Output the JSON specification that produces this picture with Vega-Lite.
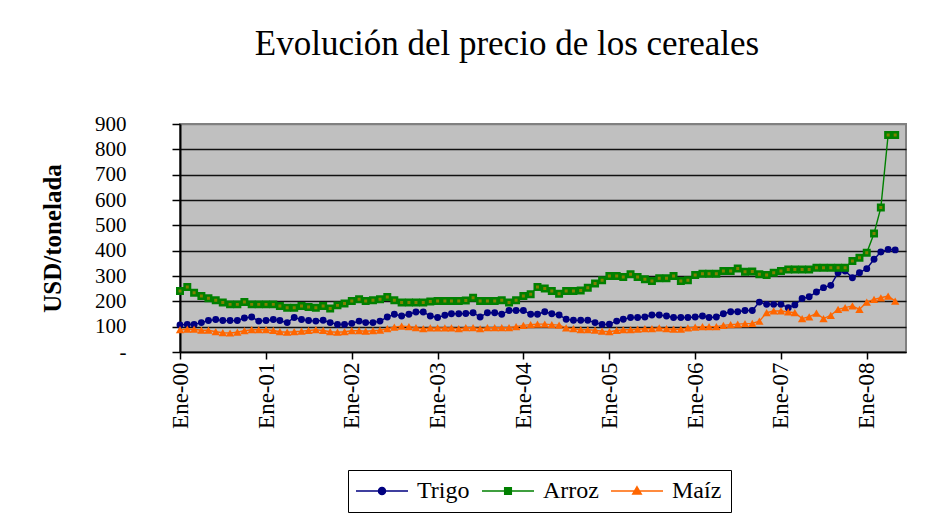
{
  "$schema": "https://vega.github.io/schema/vega-lite/v6.json",
  "width": 726,
  "height": 228,
  "autosize": {"type": "none"},
  "padding": {"left": 180, "top": 124, "right": 28, "bottom": 166},
  "background": "white",
  "title": {
    "text": "Evolución del precio de los cereales",
    "font": "Liberation Serif",
    "fontSize": 35,
    "fontWeight": "normal",
    "color": "black",
    "frame": "group",
    "anchor": "middle",
    "baseline": "alphabetic",
    "dx": -36,
    "offset": 23
  },
  "data": {
    "values": [
      {"fecha": "2000-01-01", "Trigo": 107, "Arroz": 241, "Maíz": 88},
      {"fecha": "2000-02-01", "Trigo": 109, "Arroz": 257, "Maíz": 90},
      {"fecha": "2000-03-01", "Trigo": 109, "Arroz": 234, "Maíz": 90},
      {"fecha": "2000-04-01", "Trigo": 116, "Arroz": 221, "Maíz": 86},
      {"fecha": "2000-05-01", "Trigo": 124, "Arroz": 212, "Maíz": 86},
      {"fecha": "2000-06-01", "Trigo": 128, "Arroz": 204, "Maíz": 80},
      {"fecha": "2000-07-01", "Trigo": 124, "Arroz": 195, "Maíz": 76},
      {"fecha": "2000-08-01", "Trigo": 124, "Arroz": 188, "Maíz": 75},
      {"fecha": "2000-09-01", "Trigo": 124, "Arroz": 188, "Maíz": 78},
      {"fecha": "2000-10-01", "Trigo": 134, "Arroz": 197, "Maíz": 84},
      {"fecha": "2000-11-01", "Trigo": 138, "Arroz": 188, "Maíz": 88},
      {"fecha": "2000-12-01", "Trigo": 122, "Arroz": 188, "Maíz": 88},
      {"fecha": "2001-01-01", "Trigo": 124, "Arroz": 188, "Maíz": 88},
      {"fecha": "2001-02-01", "Trigo": 128, "Arroz": 188, "Maíz": 85},
      {"fecha": "2001-03-01", "Trigo": 124, "Arroz": 182, "Maíz": 80},
      {"fecha": "2001-04-01", "Trigo": 116, "Arroz": 175, "Maíz": 78},
      {"fecha": "2001-05-01", "Trigo": 136, "Arroz": 175, "Maíz": 80},
      {"fecha": "2001-06-01", "Trigo": 128, "Arroz": 182, "Maíz": 82},
      {"fecha": "2001-07-01", "Trigo": 124, "Arroz": 178, "Maíz": 85},
      {"fecha": "2001-08-01", "Trigo": 122, "Arroz": 175, "Maíz": 88},
      {"fecha": "2001-09-01", "Trigo": 125, "Arroz": 182, "Maíz": 85},
      {"fecha": "2001-10-01", "Trigo": 116, "Arroz": 172, "Maíz": 80},
      {"fecha": "2001-11-01", "Trigo": 109, "Arroz": 184, "Maíz": 78},
      {"fecha": "2001-12-01", "Trigo": 109, "Arroz": 191, "Maíz": 80},
      {"fecha": "2002-01-01", "Trigo": 113, "Arroz": 201, "Maíz": 84},
      {"fecha": "2002-02-01", "Trigo": 122, "Arroz": 208, "Maíz": 84},
      {"fecha": "2002-03-01", "Trigo": 116, "Arroz": 201, "Maíz": 82},
      {"fecha": "2002-04-01", "Trigo": 116, "Arroz": 204, "Maíz": 84},
      {"fecha": "2002-05-01", "Trigo": 122, "Arroz": 208, "Maíz": 86},
      {"fecha": "2002-06-01", "Trigo": 138, "Arroz": 217, "Maíz": 92},
      {"fecha": "2002-07-01", "Trigo": 149, "Arroz": 204, "Maíz": 98},
      {"fecha": "2002-08-01", "Trigo": 142, "Arroz": 195, "Maíz": 102},
      {"fecha": "2002-09-01", "Trigo": 149, "Arroz": 195, "Maíz": 100},
      {"fecha": "2002-10-01", "Trigo": 158, "Arroz": 195, "Maíz": 96},
      {"fecha": "2002-11-01", "Trigo": 158, "Arroz": 195, "Maíz": 92},
      {"fecha": "2002-12-01", "Trigo": 142, "Arroz": 199, "Maíz": 95},
      {"fecha": "2003-01-01", "Trigo": 136, "Arroz": 201, "Maíz": 95},
      {"fecha": "2003-02-01", "Trigo": 145, "Arroz": 201, "Maíz": 95},
      {"fecha": "2003-03-01", "Trigo": 151, "Arroz": 201, "Maíz": 95},
      {"fecha": "2003-04-01", "Trigo": 151, "Arroz": 201, "Maíz": 92},
      {"fecha": "2003-05-01", "Trigo": 152, "Arroz": 203, "Maíz": 96},
      {"fecha": "2003-06-01", "Trigo": 155, "Arroz": 214, "Maíz": 96},
      {"fecha": "2003-07-01", "Trigo": 138, "Arroz": 201, "Maíz": 92},
      {"fecha": "2003-08-01", "Trigo": 155, "Arroz": 201, "Maíz": 96},
      {"fecha": "2003-09-01", "Trigo": 155, "Arroz": 201, "Maíz": 96},
      {"fecha": "2003-10-01", "Trigo": 149, "Arroz": 204, "Maíz": 96},
      {"fecha": "2003-11-01", "Trigo": 164, "Arroz": 195, "Maíz": 96},
      {"fecha": "2003-12-01", "Trigo": 164, "Arroz": 204, "Maíz": 100},
      {"fecha": "2004-01-01", "Trigo": 164, "Arroz": 221, "Maíz": 105},
      {"fecha": "2004-02-01", "Trigo": 149, "Arroz": 228, "Maíz": 108},
      {"fecha": "2004-03-01", "Trigo": 149, "Arroz": 257, "Maíz": 110},
      {"fecha": "2004-04-01", "Trigo": 159, "Arroz": 251, "Maíz": 110},
      {"fecha": "2004-05-01", "Trigo": 151, "Arroz": 241, "Maíz": 108},
      {"fecha": "2004-06-01", "Trigo": 146, "Arroz": 230, "Maíz": 106},
      {"fecha": "2004-07-01", "Trigo": 129, "Arroz": 241, "Maíz": 95},
      {"fecha": "2004-08-01", "Trigo": 125, "Arroz": 241, "Maíz": 92},
      {"fecha": "2004-09-01", "Trigo": 125, "Arroz": 243, "Maíz": 88},
      {"fecha": "2004-10-01", "Trigo": 125, "Arroz": 254, "Maíz": 88},
      {"fecha": "2004-11-01", "Trigo": 116, "Arroz": 270, "Maíz": 86},
      {"fecha": "2004-12-01", "Trigo": 109, "Arroz": 283, "Maíz": 82},
      {"fecha": "2005-01-01", "Trigo": 110, "Arroz": 300, "Maíz": 80},
      {"fecha": "2005-02-01", "Trigo": 122, "Arroz": 300, "Maíz": 85},
      {"fecha": "2005-03-01", "Trigo": 129, "Arroz": 296, "Maíz": 88},
      {"fecha": "2005-04-01", "Trigo": 136, "Arroz": 307, "Maíz": 88},
      {"fecha": "2005-05-01", "Trigo": 136, "Arroz": 296, "Maíz": 90},
      {"fecha": "2005-06-01", "Trigo": 138, "Arroz": 287, "Maíz": 92},
      {"fecha": "2005-07-01", "Trigo": 146, "Arroz": 280, "Maíz": 92},
      {"fecha": "2005-08-01", "Trigo": 146, "Arroz": 291, "Maíz": 95},
      {"fecha": "2005-09-01", "Trigo": 142, "Arroz": 291, "Maíz": 92},
      {"fecha": "2005-10-01", "Trigo": 136, "Arroz": 300, "Maíz": 90},
      {"fecha": "2005-11-01", "Trigo": 136, "Arroz": 280, "Maíz": 90},
      {"fecha": "2005-12-01", "Trigo": 136, "Arroz": 283, "Maíz": 95},
      {"fecha": "2006-01-01", "Trigo": 138, "Arroz": 304, "Maíz": 98},
      {"fecha": "2006-02-01", "Trigo": 142, "Arroz": 309, "Maíz": 100},
      {"fecha": "2006-03-01", "Trigo": 136, "Arroz": 309, "Maíz": 100},
      {"fecha": "2006-04-01", "Trigo": 138, "Arroz": 309, "Maíz": 100},
      {"fecha": "2006-05-01", "Trigo": 151, "Arroz": 320, "Maíz": 105},
      {"fecha": "2006-06-01", "Trigo": 159, "Arroz": 320, "Maíz": 108},
      {"fecha": "2006-07-01", "Trigo": 159, "Arroz": 330, "Maíz": 110},
      {"fecha": "2006-08-01", "Trigo": 164, "Arroz": 317, "Maíz": 112},
      {"fecha": "2006-09-01", "Trigo": 164, "Arroz": 318, "Maíz": 113},
      {"fecha": "2006-10-01", "Trigo": 197, "Arroz": 307, "Maíz": 122},
      {"fecha": "2006-11-01", "Trigo": 188, "Arroz": 304, "Maíz": 155},
      {"fecha": "2006-12-01", "Trigo": 188, "Arroz": 313, "Maíz": 162},
      {"fecha": "2007-01-01", "Trigo": 188, "Arroz": 320, "Maíz": 162},
      {"fecha": "2007-02-01", "Trigo": 175, "Arroz": 326, "Maíz": 158},
      {"fecha": "2007-03-01", "Trigo": 186, "Arroz": 326, "Maíz": 155},
      {"fecha": "2007-04-01", "Trigo": 211, "Arroz": 326, "Maíz": 132},
      {"fecha": "2007-05-01", "Trigo": 218, "Arroz": 326, "Maíz": 139},
      {"fecha": "2007-06-01", "Trigo": 237, "Arroz": 333, "Maíz": 153},
      {"fecha": "2007-07-01", "Trigo": 254, "Arroz": 333, "Maíz": 132},
      {"fecha": "2007-08-01", "Trigo": 263, "Arroz": 333, "Maíz": 145},
      {"fecha": "2007-09-01", "Trigo": 313, "Arroz": 333, "Maíz": 168},
      {"fecha": "2007-10-01", "Trigo": 320, "Arroz": 333, "Maíz": 175},
      {"fecha": "2007-11-01", "Trigo": 293, "Arroz": 359, "Maíz": 182},
      {"fecha": "2007-12-01", "Trigo": 313, "Arroz": 372, "Maíz": 168},
      {"fecha": "2008-01-01", "Trigo": 329, "Arroz": 392, "Maíz": 197},
      {"fecha": "2008-02-01", "Trigo": 366, "Arroz": 468, "Maíz": 208},
      {"fecha": "2008-03-01", "Trigo": 395, "Arroz": 570, "Maíz": 214},
      {"fecha": "2008-04-01", "Trigo": 405, "Arroz": 857, "Maíz": 221},
      {"fecha": "2008-05-01", "Trigo": 403, "Arroz": 857, "Maíz": 201}
    ]
  },
  "transform": [{"fold": ["Trigo", "Arroz", "Maíz"], "as": ["serie", "valor"]}],
  "encoding": {
    "x": {
      "field": "fecha",
      "type": "temporal",
      "scale": {
        "type": "utc",
        "domain": [
          {"year": 2000, "month": 1, "date": 1, "utc": true},
          {"year": 2008, "month": 6, "date": 16, "utc": true}
        ]
      },
      "axis": {
        "title": null,
        "values": [
          {"year": 2000, "month": 1, "date": 1, "utc": true},
          {"year": 2001, "month": 1, "date": 1, "utc": true},
          {"year": 2002, "month": 1, "date": 1, "utc": true},
          {"year": 2003, "month": 1, "date": 1, "utc": true},
          {"year": 2004, "month": 1, "date": 1, "utc": true},
          {"year": 2005, "month": 1, "date": 1, "utc": true},
          {"year": 2006, "month": 1, "date": 1, "utc": true},
          {"year": 2007, "month": 1, "date": 1, "utc": true},
          {"year": 2008, "month": 1, "date": 1, "utc": true}
        ],
        "labelExpr": "'Ene-' + utcFormat(datum.value, '%y')",
        "labelAngle": 270,
        "labelFontSize": 23,
        "labelPadding": 3,
        "tickSize": 7,
        "tickWidth": 1.5,
        "domainWidth": 1.5,
        "grid": false,
        "labelOverlap": false,
        "labelFlush": false
      }
    },
    "y": {
      "field": "valor",
      "type": "quantitative",
      "scale": {"domain": [0, 900], "nice": false},
      "axis": {
        "title": "USD/tonelada",
        "titleFontSize": 25,
        "titleFontWeight": "bold",
        "titlePadding": 29,
        "values": [0, 100, 200, 300, 400, 500, 600, 700, 800, 900],
        "labelExpr": "datum.value === 0 ? '-' : datum.label",
        "labelFontSize": 21,
        "labelPadding": 46,
        "tickSize": 8,
        "tickWidth": 1.5,
        "domainWidth": 2,
        "grid": true,
        "gridColor": {"condition": {"test": "datum.value === 900", "value": "#808080"}, "value": "#111111"},
        "gridWidth": 1.5,
        "gridOpacity": 1
      }
    }
  },
  "layer": [
    {
      "transform": [{"filter": {"field": "serie", "equal": "Trigo"}}],
      "mark": {"type": "line", "strokeWidth": 1.4, "color": "#000080"},
      "encoding": {}
    },
    {
      "transform": [{"filter": {"field": "serie", "equal": "Arroz"}}],
      "mark": {"type": "line", "strokeWidth": 1.4, "color": "#008000"},
      "encoding": {}
    },
    {
      "transform": [{"filter": {"field": "serie", "equal": "Maíz"}}],
      "mark": {"type": "line", "strokeWidth": 1.4, "color": "#FF6600"},
      "encoding": {}
    },
    {
      "transform": [{"filter": {"field": "serie", "equal": "Trigo"}}],
      "mark": {"type": "point", "shape": "circle", "filled": true, "fill": "#000080", "size": 48, "opacity": 1}
    },
    {
      "transform": [{"filter": {"field": "serie", "equal": "Arroz"}}],
      "mark": {"type": "point", "shape": "square", "filled": true, "fill": "#808000", "stroke": "#008000", "strokeWidth": 2.5, "size": 30, "opacity": 1}
    },
    {
      "transform": [{"filter": {"field": "serie", "equal": "Maíz"}}],
      "mark": {"type": "point", "shape": "triangle-up", "filled": true, "fill": "#FF6600", "size": 70, "opacity": 1}
    },
    {
      "mark": {"type": "point", "filled": true, "size": 400, "opacity": 0, "font": "Liberation Serif"},
      "encoding": {
        "color": {
          "field": "serie",
          "type": "nominal",
          "scale": {"domain": ["Trigo", "Arroz", "Maíz"], "range": ["#000080", "#008000", "#FF6600"]},
          "legend": {
            "title": null,
            "orient": "none",
            "direction": "horizontal",
            "legendX": 168,
            "legendY": 346,
            "labelFont": "Liberation Serif",
            "labelFontSize": 24,
            "encode": {
              "symbols": {
                "update": {
                  "stroke": {"scale": "color", "field": "value"},
                  "strokeWidth": {"value": 1.5},
                  "opacity": {"value": 1}
                }
              },
              "labels": {
                "update": {
                  "font": {"value": "Liberation Serif"},
                  "fontSize": {"value": 24},
                  "fill": {"value": "black"}
                }
              }
            }
          }
        },
        "shape": {
          "field": "serie",
          "type": "nominal",
          "scale": {
            "domain": ["Trigo", "Arroz", "Maíz"],
            "range": [
              "M-2.6,0H2.6M-0.35,0A0.35,0.35,0,1,0,0.35,0A0.35,0.35,0,1,0,-0.35,0Z",
              "M-2.6,0H2.6M-0.33,-0.33H0.33V0.33H-0.33Z",
              "M-2.6,0H2.6M0,-0.42L0.42,0.3L-0.42,0.3Z"
            ]
          },
          "legend": {
            "title": null,
            "orient": "none",
            "direction": "horizontal",
            "legendX": 168,
            "legendY": 346,
            "labelFont": "Liberation Serif",
            "labelFontSize": 24,
            "encode": {
              "labels": {
                "update": {
                  "font": {"value": "Liberation Serif"},
                  "fontSize": {"value": 24},
                  "fill": {"value": "black"}
                }
              }
            }
          }
        }
      }
    }
  ],
  "config": {
    "view": {"fill": "#C0C0C0", "stroke": "#808080", "strokeWidth": 2},
    "font": "Liberation Serif",
    "style": {
      "guide-label": {"font": "Liberation Serif"},
      "guide-title": {"font": "Liberation Serif"}
    },
    "axis": {
      "labelFont": "Liberation Serif",
      "titleFont": "Liberation Serif",
      "labelColor": "black",
      "titleColor": "black",
      "domainColor": "black",
      "tickColor": "black"
    },
    "legend": {
      "padding": 9,
      "strokeColor": "black",
      "fillColor": "white",
      "symbolSize": 400,
      "symbolOffset": 13,
      "labelOffset": 23,
      "columnPadding": 9,
      "labelFont": "Liberation Serif",
      "labelFontSize": 24,
      "labelColor": "black",
      "symbolStrokeWidth": 1.5,
      "symbolOpacity": 1
    }
  }
}
